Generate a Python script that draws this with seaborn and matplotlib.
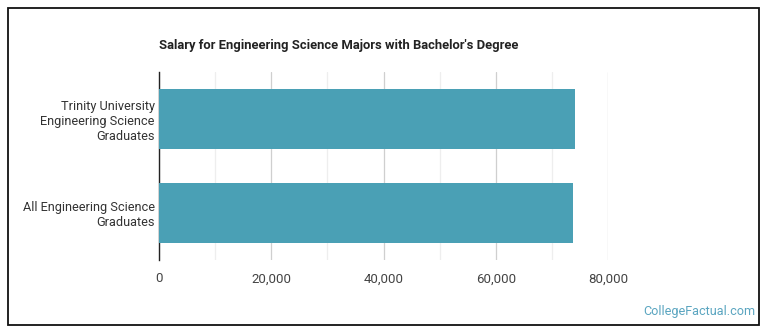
import matplotlib
matplotlib.use("Agg")
import matplotlib.pyplot as plt
import seaborn as sns
import pandas as pd
from matplotlib.patches import Rectangle
from matplotlib.ticker import FuncFormatter, MultipleLocator

# データ
categories = ["Trinity University\nEngineering Science\nGraduates",
              "All Engineering Science\nGraduates"]
salaries = [74100, 73700]
x_ticks = [0, 20000, 40000, 60000, 80000]

df = pd.DataFrame({"group": categories, "salary": salaries})

sns.set_style("white")
plt.rcParams["font.family"] = ["Roboto", "DejaVu Sans"]

fig = plt.figure(figsize=(7.7, 3.35), dpi=100)
ax = fig.add_axes([159 / 770, 1 - 260 / 335, 449 / 770, 188 / 335])

sns.barplot(data=df, x="salary", y="group", color="#4aa0b5", saturation=1,
            width=0.64, linewidth=0, ax=ax, zorder=3)

ax.set_xlim(0, 80000)
ax.set_ylim(1.5, -0.5)
ax.set_xticks(x_ticks)
ax.xaxis.set_minor_locator(MultipleLocator(10000))
ax.xaxis.set_major_formatter(FuncFormatter(lambda v, p: f"{int(v):,}"))
ax.grid(axis="x", which="major", color="#cfcfcf", linewidth=0.9, zorder=0)
ax.grid(axis="x", which="minor", color="#eeeeee", linewidth=0.9, zorder=0)
ax.set_xlabel("")
ax.set_ylabel("")

for side in ["top", "right", "bottom"]:
    ax.spines[side].set_visible(False)
ax.spines["left"].set_color("#222222")
ax.spines["left"].set_linewidth(1)

ax.tick_params(axis="x", which="both", length=0, pad=9, labelsize=9.5, labelcolor="#444444")
ax.tick_params(axis="y", length=0, pad=3, labelsize=9.2, labelcolor="#333333")

fig.text(159 / 770, 1 - 45 / 335, "Salary for Engineering Science Majors with Bachelor's Degree",
         fontsize=9.4, fontweight="bold", color="#222222", va="center", ha="left")

fig.text(755 / 770, 1 - 312 / 335, "CollegeFactual.com", fontsize=9.1,
         color="#5aa5c0", ha="right", va="center")

fig.patches.append(Rectangle((8 / 770, 1 - 325 / 335), 751 / 770, 317 / 335,
                             transform=fig.transFigure, fill=False,
                             edgecolor="#111111", linewidth=1.3))

fig.savefig("out.png", dpi=100)
plt.close(fig)
